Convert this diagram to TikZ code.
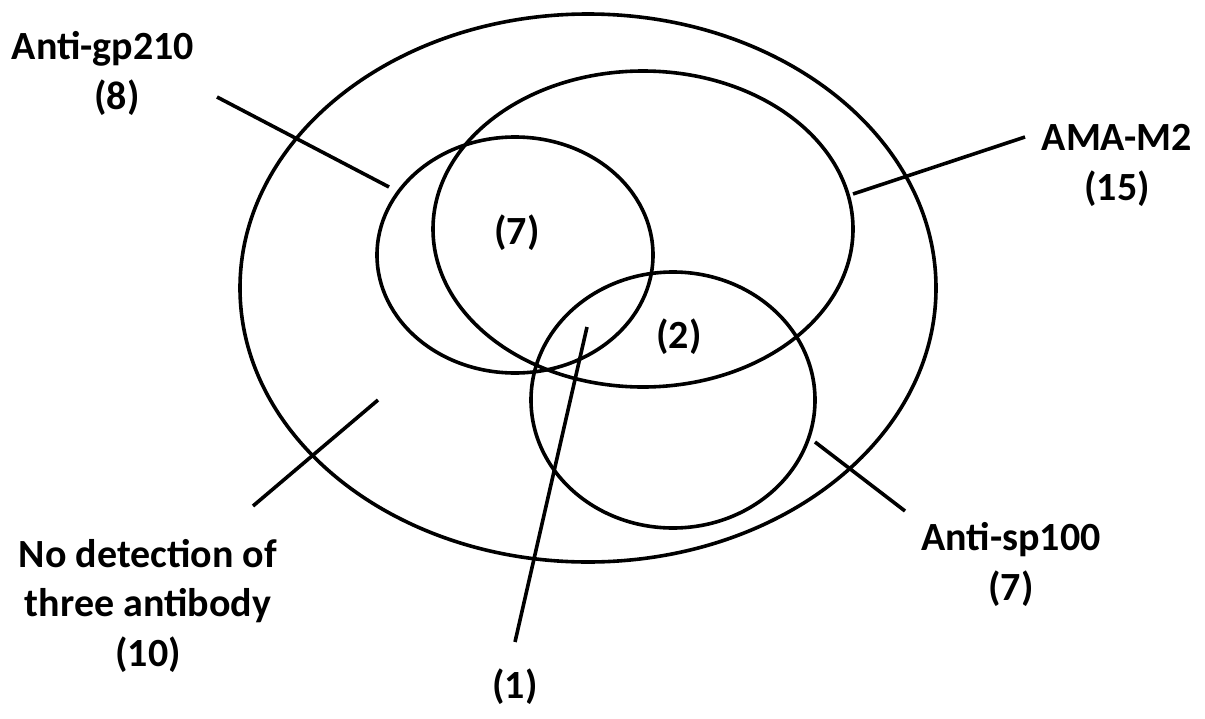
\documentclass[tikz,border=0pt]{standalone}
\usepackage{fontspec}
\setmainfont{Carlito}
\usetikzlibrary{positioning}

\begin{document}
\begin{tikzpicture}[
    x=1pt, y=-1pt,
    set/.style  = {draw=black, line width=3.6pt},
    lead/.style = {draw=black, line width=3.6pt},
    lbl/.style  = {font=\fontsize{40}{49.5}\selectfont\bfseries,
                   inner sep=0pt, align=center, anchor=base}
  ]
  \useasboundingbox (0,0) rectangle (1205,718);

  % ----------------------------------------------------------------
  % Sets: all patients, AMA-M2, anti-gp210, anti-sp100
  % ----------------------------------------------------------------
  \draw[set] (588,288) ellipse [x radius=348, y radius=274];
  \draw[set] (643,229) ellipse [x radius=210, y radius=158];
  \draw[set] (515,255) ellipse [x radius=138, y radius=118];
  \draw[set] (673,400) ellipse [x radius=142, y radius=128];

  % ----------------------------------------------------------------
  % Labels outside the sets (base = baseline of the last line)
  % ----------------------------------------------------------------
  \node[lbl] (gp)   at (103,109)  {Anti-gp210\\\hspace*{28pt}(8)};
  \node[lbl] (ama)  at (1117,200) {AMA-M2\\(15)};
  \node[lbl] (sp)   at (1011,600) {Anti-sp100\\(7)};
  \node[lbl] (none) at (148,666)  {No detection of\\three antibody\\(10)};
  \node[lbl] (one)  at (515,698)  {(1)};

  % counts inside the overlaps
  \node[lbl] (seven) at (517,244) {(7)};
  \node[lbl] (two)   at (679,348) {(2)};

  % ----------------------------------------------------------------
  % Leader lines (outer end -- inner end)
  % ----------------------------------------------------------------
  \foreach \nm/\ax/\ay/\bx/\by in {
      gp/217/97/389/187,     ama/1025/137/853/194,
      sp/905/511/815/442,    none/253/506/378/400,
      one/515/642/587/327}{
    \coordinate (\nm-out) at (\ax,\ay);
    \coordinate (\nm-in)  at (\bx,\by);
    \draw[lead] (\nm-out) -- (\nm-in);
  }

\end{tikzpicture}
\end{document}
